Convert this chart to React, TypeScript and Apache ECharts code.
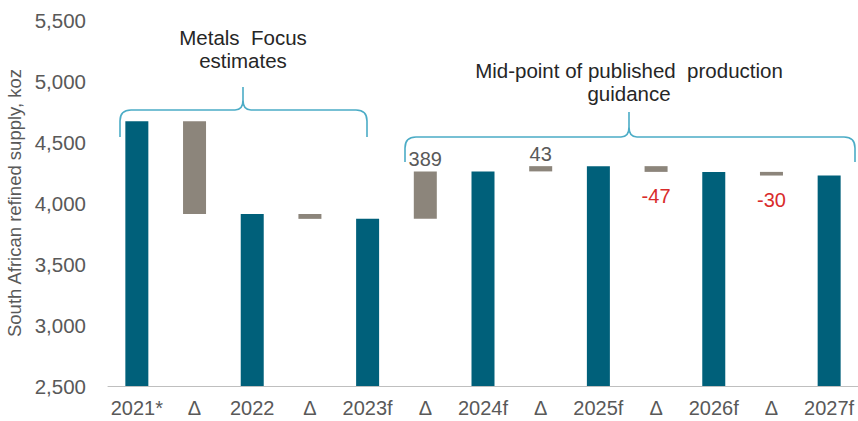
import React, { useEffect, useRef } from "react";
import * as echarts from "echarts";

const categories = ["2021*", "Δ", "2022", "Δ", "2023f", "Δ", "2024f", "Δ", "2025f", "Δ", "2026f", "Δ", "2027f"];
const totals = [4670, 3910, 3870, 4259, 4302, 4255, 4225];
const deltas = [-760, -40, 389, 43, -47, -30];
const deltaLabelShown = [false, false, true, true, true, true];
const yTicks = { min: 2500, max: 5500, interval: 500 };
const annotations = [
  { lines: ["Metals  Focus", "estimates"] },
  { lines: ["Mid-point of published  production", "guidance"] },
];

const FONT = "Liberation Sans, Arial, sans-serif";
const TEAL = "#00607A";
const GREY = "#8C857B";
const BRACE = "#4BACC6";

echarts.graphic.registerShape(
  "brace1",
  echarts.graphic.extendPath(
    "M120 137 L120 121 Q120 110 131 110 L235 110 Q243 110 243 100 L243 87 M243 100 Q243 110 251 110 L356 110 Q367 110 367 121 L367 137",
    {}
  )
);
echarts.graphic.registerShape(
  "brace2",
  echarts.graphic.extendPath(
    "M405 162 L405 148 Q405 137 416 137 L621 137 Q629 137 629 127 L629 112 M629 127 Q629 137 637 137 L844 137 Q855 137 855 148 L855 162",
    {}
  )
);

export default function App() {
  const ref = useRef<HTMLDivElement>(null);
  useEffect(() => {
    if (!ref.current) return;
    const chart = echarts.init(ref.current, null, { renderer: "svg" });

    const base: any[] = [];
    const tot: any[] = [];
    const del: any[] = [];
    categories.forEach((_, i) => {
      if (i % 2 === 0) {
        base.push("-");
        tot.push(totals[i / 2]);
        del.push("-");
      } else {
        const k = (i - 1) / 2;
        const prev = totals[k];
        const next = totals[k + 1];
        const d = deltas[k];
        base.push(Math.min(prev, next));
        tot.push("-");
        const pos = d >= 0;
        del.push({
          value: Math.abs(next - prev),
          label: {
            show: deltaLabelShown[k],
            position: pos ? "top" : "bottom",
            distance: pos ? 2 : 14,
            color: pos ? "#595959" : "#D92B2B",
            formatter: String(d),
            fontSize: 20,
            fontFamily: FONT,
          },
        });
      }
    });

    const textEls: any[] = [];
    const pos = [
      { x: 243, y: [37, 60] },
      { x: 629, y: [70, 93] },
    ];
    annotations.forEach((a, ai) => {
      a.lines.forEach((ln, li) => {
        textEls.push({
          type: "text",
          x: pos[ai].x,
          y: pos[ai].y[li],
          style: {
            text: ln,
            fill: "#262626",
            font: `20.5px ${FONT}`,
            align: "center",
            verticalAlign: "middle",
            textAlign: "center",
            textVerticalAlign: "middle",
          },
        });
      });
    });

    chart.setOption({
      animation: false,
      grid: { left: 108, right: 0, top: 20, bottom: 35, containLabel: false, outerBoundsMode: "none" },
      xAxis: {
        type: "category",
        data: categories,
        axisTick: { show: false },
        axisLine: { lineStyle: { color: "#BFBFBF", width: 1 } },
        axisLabel: { color: "#595959", fontSize: 20, fontFamily: FONT, margin: 12, interval: 0 },
      },
      yAxis: {
        type: "value",
        min: yTicks.min,
        max: yTicks.max,
        interval: yTicks.interval,
        splitLine: { show: false },
        axisLine: { show: false },
        axisTick: { show: false },
        axisLabel: {
          color: "#595959",
          fontSize: 20.5,
          fontFamily: FONT,
          margin: 22,
          formatter: (v: number) => v.toLocaleString("en-US"),
        },
        name: "South African refined supply, koz",
        nameLocation: "middle",
        nameRotate: 90,
        nameGap: 84,
        nameTextStyle: { color: "#595959", fontSize: 18.5, fontFamily: FONT },
      },
      series: [
        {
          type: "bar",
          stack: "w",
          data: base,
          barWidth: 23,
          itemStyle: { color: "transparent" },
          silent: true,
        },
        {
          type: "bar",
          stack: "w",
          data: tot,
          barWidth: 23,
          itemStyle: { color: TEAL },
        },
        {
          type: "bar",
          stack: "w",
          data: del,
          barWidth: 23,
          itemStyle: { color: GREY },
        },
      ],
      graphic: [
        { type: "brace1", x: 0, y: 0, style: { fill: "none", stroke: BRACE, lineWidth: 1.6 } },
        { type: "brace2", x: 0, y: 0, style: { fill: "none", stroke: BRACE, lineWidth: 1.6 } },
        ...textEls,
      ],
    });
    return () => chart.dispose();
  }, []);
  return (
    <div
      ref={ref}
      style={{ position: "fixed", left: 0, top: 0, width: 858, height: 421, background: "#fff" }}
    />
  );
}
